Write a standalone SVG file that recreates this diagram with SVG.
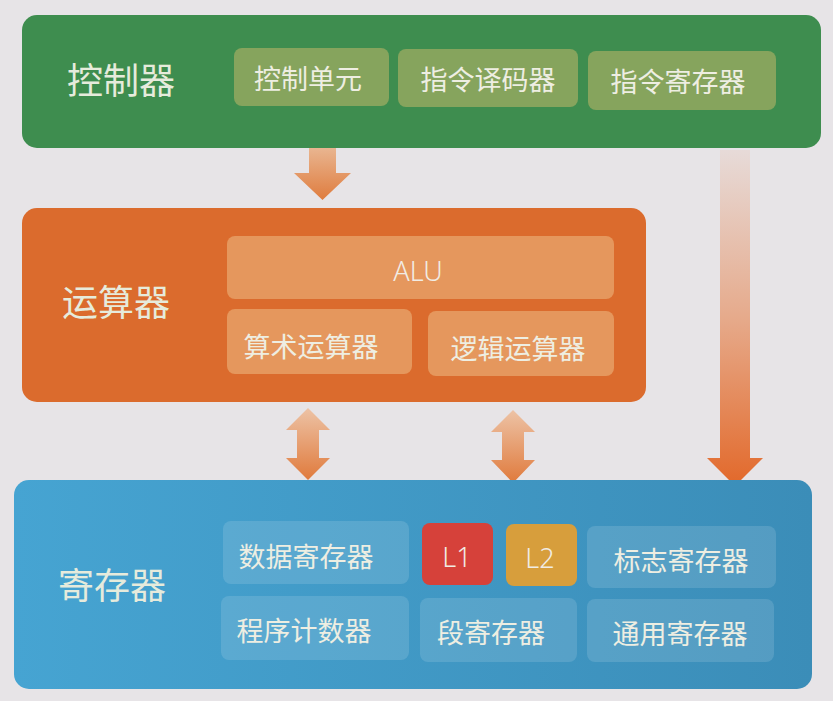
<svg xmlns="http://www.w3.org/2000/svg" width="833" height="701" viewBox="0 0 833 701">
<defs>
<linearGradient id="gDown" x1="0" y1="0" x2="0" y2="1"><stop offset="0" stop-color="#e9b590"/><stop offset="1" stop-color="#df7c3e"/></linearGradient>
<linearGradient id="gBoth" x1="0" y1="0" x2="0" y2="1"><stop offset="0" stop-color="#edc3a6"/><stop offset="1" stop-color="#e07a3c"/></linearGradient>
<linearGradient id="gLong" x1="0" y1="0" x2="0" y2="1"><stop offset="0" stop-color="#e5702f" stop-opacity="0.08"/><stop offset="0.5" stop-color="#e5702f" stop-opacity="0.5"/><stop offset="1" stop-color="#e2682a"/></linearGradient>
<linearGradient id="gBlue" x1="0" y1="0" x2="1" y2="0"><stop offset="0" stop-color="#46a4d2"/><stop offset="1" stop-color="#3b8db8"/></linearGradient>
</defs>
<style>
.big{font-family:"Noto Sans CJK SC","Noto Sans",sans-serif;font-size:36px;fill:#e6ebdc;text-anchor:middle;dominant-baseline:central}
.t{font-family:"Noto Sans CJK SC","Noto Sans",sans-serif;font-size:27px;fill:#eeeee2;text-anchor:middle;dominant-baseline:central}
.lat{font-family:"Noto Sans","Noto Sans CJK SC",sans-serif;font-size:27px;font-weight:300;fill:#f1ece4;text-anchor:middle;dominant-baseline:central}
.gi{fill:#86a45d}
.oi{fill:#e5975d}
.bi{fill:#ffffff;fill-opacity:0.13}
</style>
<rect width="833" height="701" fill="#e7e4e7"/>
<g id="connectors">
<polygon points="309,148 336,148 336,173 351,173 322.5,200 294,173 309,173" fill="url(#gDown)"/>
<polygon points="308,408 330,430 319,430 319,458 330,458 308,480 286,458 297,458 297,430 286,430" fill="url(#gBoth)"/>
<polygon points="513,410 535,432 524,432 524,460 535,460 513,483 491,460 502,460 502,432 491,432" fill="url(#gBoth)"/>
<polygon points="720,150 750,150 750,458 763,458 735,486 707,458 720,458" fill="url(#gLong)"/>
</g>
<g id="controller">
<rect x="22" y="15" width="799" height="133" rx="15" fill="#3e8d4f"/>
<text class="big" x="121" y="78">控制器</text>
</g>
<g id="control-unit"><rect class="gi" x="234" y="48" width="155" height="58" rx="8"/><text class="t" x="308" y="77">控制单元</text></g>
<g id="instr-decoder"><rect class="gi" x="398" y="49" width="180" height="58" rx="8"/><text class="t" x="488" y="78">指令译码器</text></g>
<g id="instr-register"><rect class="gi" x="588" y="51" width="188" height="59" rx="8"/><text class="t" x="678" y="80">指令寄存器</text></g>
<g id="alu-unit">
<rect x="22" y="208" width="624" height="194" rx="15" fill="#db6b2d"/>
<text class="big" x="116" y="300">运算器</text>
</g>
<g id="alu"><rect class="oi" x="227" y="236" width="387" height="63" rx="8"/><text class="lat" x="418" y="270">ALU</text></g>
<g id="arith"><rect class="oi" x="227" y="309" width="185" height="65" rx="8"/><text class="t" x="311" y="345">算术运算器</text></g>
<g id="logic"><rect class="oi" x="428" y="311" width="186" height="65" rx="8"/><text class="t" x="518" y="347">逻辑运算器</text></g>
<g id="registers">
<rect x="14" y="480" width="798" height="209" rx="15" fill="url(#gBlue)"/>
<text class="big" x="112" y="583">寄存器</text>
</g>
<g id="data-reg"><rect class="bi" x="223" y="521" width="186" height="63" rx="8"/><text class="t" x="306" y="555">数据寄存器</text></g>
<g id="l1"><rect x="422" y="523" width="71" height="62" rx="8" fill="#d6413a"/><text class="lat" x="457" y="556">L1</text></g>
<g id="l2"><rect x="506" y="524" width="71" height="62" rx="8" fill="#d79e3c"/><text class="lat" x="540" y="557">L2</text></g>
<g id="flag-reg"><rect class="bi" x="587" y="526" width="189" height="62" rx="8"/><text class="t" x="681" y="559">标志寄存器</text></g>
<g id="pc"><rect class="bi" x="221" y="596" width="188" height="64" rx="8"/><text class="t" x="304" y="629">程序计数器</text></g>
<g id="seg-reg"><rect class="bi" x="420" y="598" width="157" height="64" rx="8"/><text class="t" x="491" y="631">段寄存器</text></g>
<g id="gp-reg"><rect class="bi" x="587" y="599" width="187" height="63" rx="8"/><text class="t" x="680" y="632">通用寄存器</text></g>
</svg>
